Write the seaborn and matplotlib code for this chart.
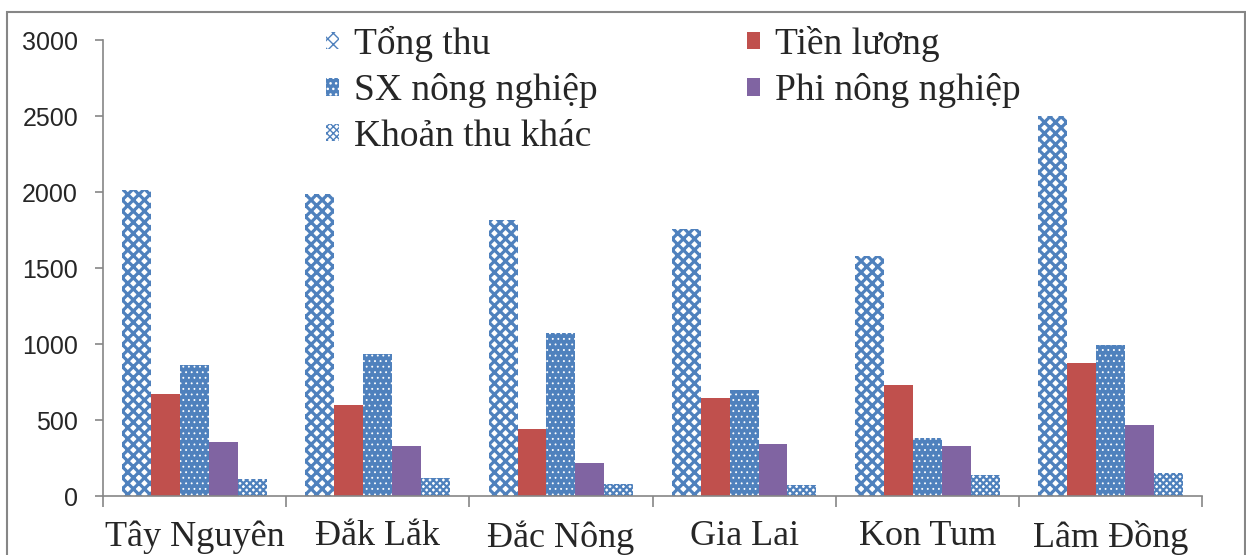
import pandas as pd
import matplotlib.pyplot as plt
import seaborn as sns
from matplotlib.patches import Rectangle, Patch
from matplotlib.ticker import FixedLocator

# Thu nhập bình quân theo tỉnh (nghìn đồng/người/tháng)
tinh = ['Tây Nguyên', 'Đắk Lắk', 'Đắc Nông', 'Gia Lai', 'Kon Tum', 'Lâm Đồng']
khoan = ['Tổng thu', 'Tiền lương', 'SX nông nghiệp', 'Phi nông nghiệp', 'Khoản thu khác']

tong_thu = [2010, 1985, 1815, 1755, 1580, 2500]
tien_luong = [670, 600, 440, 645, 730, 875]
sx_nong_nghiep = [860, 935, 1075, 700, 380, 995]
phi_nong_nghiep = [355, 330, 215, 340, 330, 470]
thu_khac = [110, 118, 78, 72, 138, 152]

series = [tong_thu, tien_luong, sx_nong_nghiep, phi_nong_nghiep, thu_khac]
df = pd.DataFrame({
    'tinh': [t for _ in khoan for t in tinh],
    'khoan': [k for k in khoan for _ in tinh],
    'gia_tri': [v for s in series for v in s],
})

BLUE = '#4F81BD'
RED = '#C0504D'
PURPLE = '#8064A2'
GREY = '#868686'

sns.set_style('white')
plt.rcParams['font.family'] = ['Liberation Serif', 'DejaVu Serif']

fig = plt.figure(figsize=(12.46, 5.55), dpi=100)
ax = fig.add_axes([103 / 1246, 59 / 555, (1202 - 103) / 1246, (496 - 40) / 555])

sns.barplot(data=df, x='tinh', y='gia_tri', hue='khoan', order=tinh, hue_order=khoan,
            width=0.79, gap=0, ax=ax, legend=False,
            palette=[BLUE, RED, BLUE, PURPLE, BLUE], saturation=1, linewidth=0)

# Hoa văn cho từng nhóm cột
styles = {
    'Tổng thu': dict(facecolor='white', edgecolor=BLUE, hatch='xxx', hlw=2.3),
    'Tiền lương': dict(facecolor=RED, edgecolor=RED, hatch=None, hlw=1),
    'SX nông nghiệp': dict(facecolor=BLUE, edgecolor='white', hatch='...', hlw=0.6),
    'Phi nông nghiệp': dict(facecolor=PURPLE, edgecolor=PURPLE, hatch=None, hlw=1),
    'Khoản thu khác': dict(facecolor='white', edgecolor=BLUE, hatch='xxxxx', hlw=1.6),
}
for cont, k in zip(ax.containers, khoan):
    st = styles[k]
    for p in cont:
        p.set_facecolor(st['facecolor'])
        p.set_edgecolor(st['edgecolor'])
        p.set_linewidth(0)
        if st['hatch']:
            p.set_hatch(st['hatch'])
            p.set_hatch_linewidth(st['hlw'])

ax.set_ylim(0, 3000)
ax.set_yticks(range(0, 3001, 500))
ax.set_xlim(-0.5, len(tinh) - 0.5)
ax.set_xlabel('')
ax.set_ylabel('')

for side in ['top', 'right']:
    ax.spines[side].set_visible(False)
for side in ['left', 'bottom']:
    ax.spines[side].set_color(GREY)
    ax.spines[side].set_linewidth(1.2)

ax.tick_params(axis='y', which='major', direction='out', length=6, width=1.2,
               color=GREY, pad=12, left=True, labelsize=18)
for lab in ax.get_yticklabels():
    lab.set_family('Liberation Sans')
ax.tick_params(axis='x', which='major', length=0, pad=17.5, labelsize=26)
ax.xaxis.set_minor_locator(FixedLocator([i - 0.5 for i in range(len(tinh) + 1)]))
ax.tick_params(axis='x', which='minor', direction='out', length=8, width=1.2,
               color=GREY, bottom=True)

handles = []
for k in khoan:
    st = styles[k]
    h = Patch(facecolor=st['facecolor'], edgecolor=st['edgecolor'],
              hatch=st['hatch'], linewidth=0)
    h.set_hatch_linewidth(st['hlw'])
    handles.append(h)
order = [0, 2, 4, 1, 3]
ax.legend([handles[i] for i in order], [khoan[i] for i in order], ncol=2,
          loc='upper left', bbox_to_anchor=(326 / 1246, 1 - 26 / 555),
          bbox_transform=fig.transFigure, frameon=False, fontsize=27,
          handlelength=0.34, handleheight=0.34, handletextpad=0.4,
          labelspacing=0.3, columnspacing=4.0, borderpad=0, borderaxespad=0)

fig.add_artist(Rectangle((7 / 1246, -0.05), (1245 - 7) / 1246, 1.05 - 12 / 555,
                         transform=fig.transFigure, fill=False,
                         edgecolor=GREY, linewidth=1.5))

fig.savefig('out.png', dpi=100)
